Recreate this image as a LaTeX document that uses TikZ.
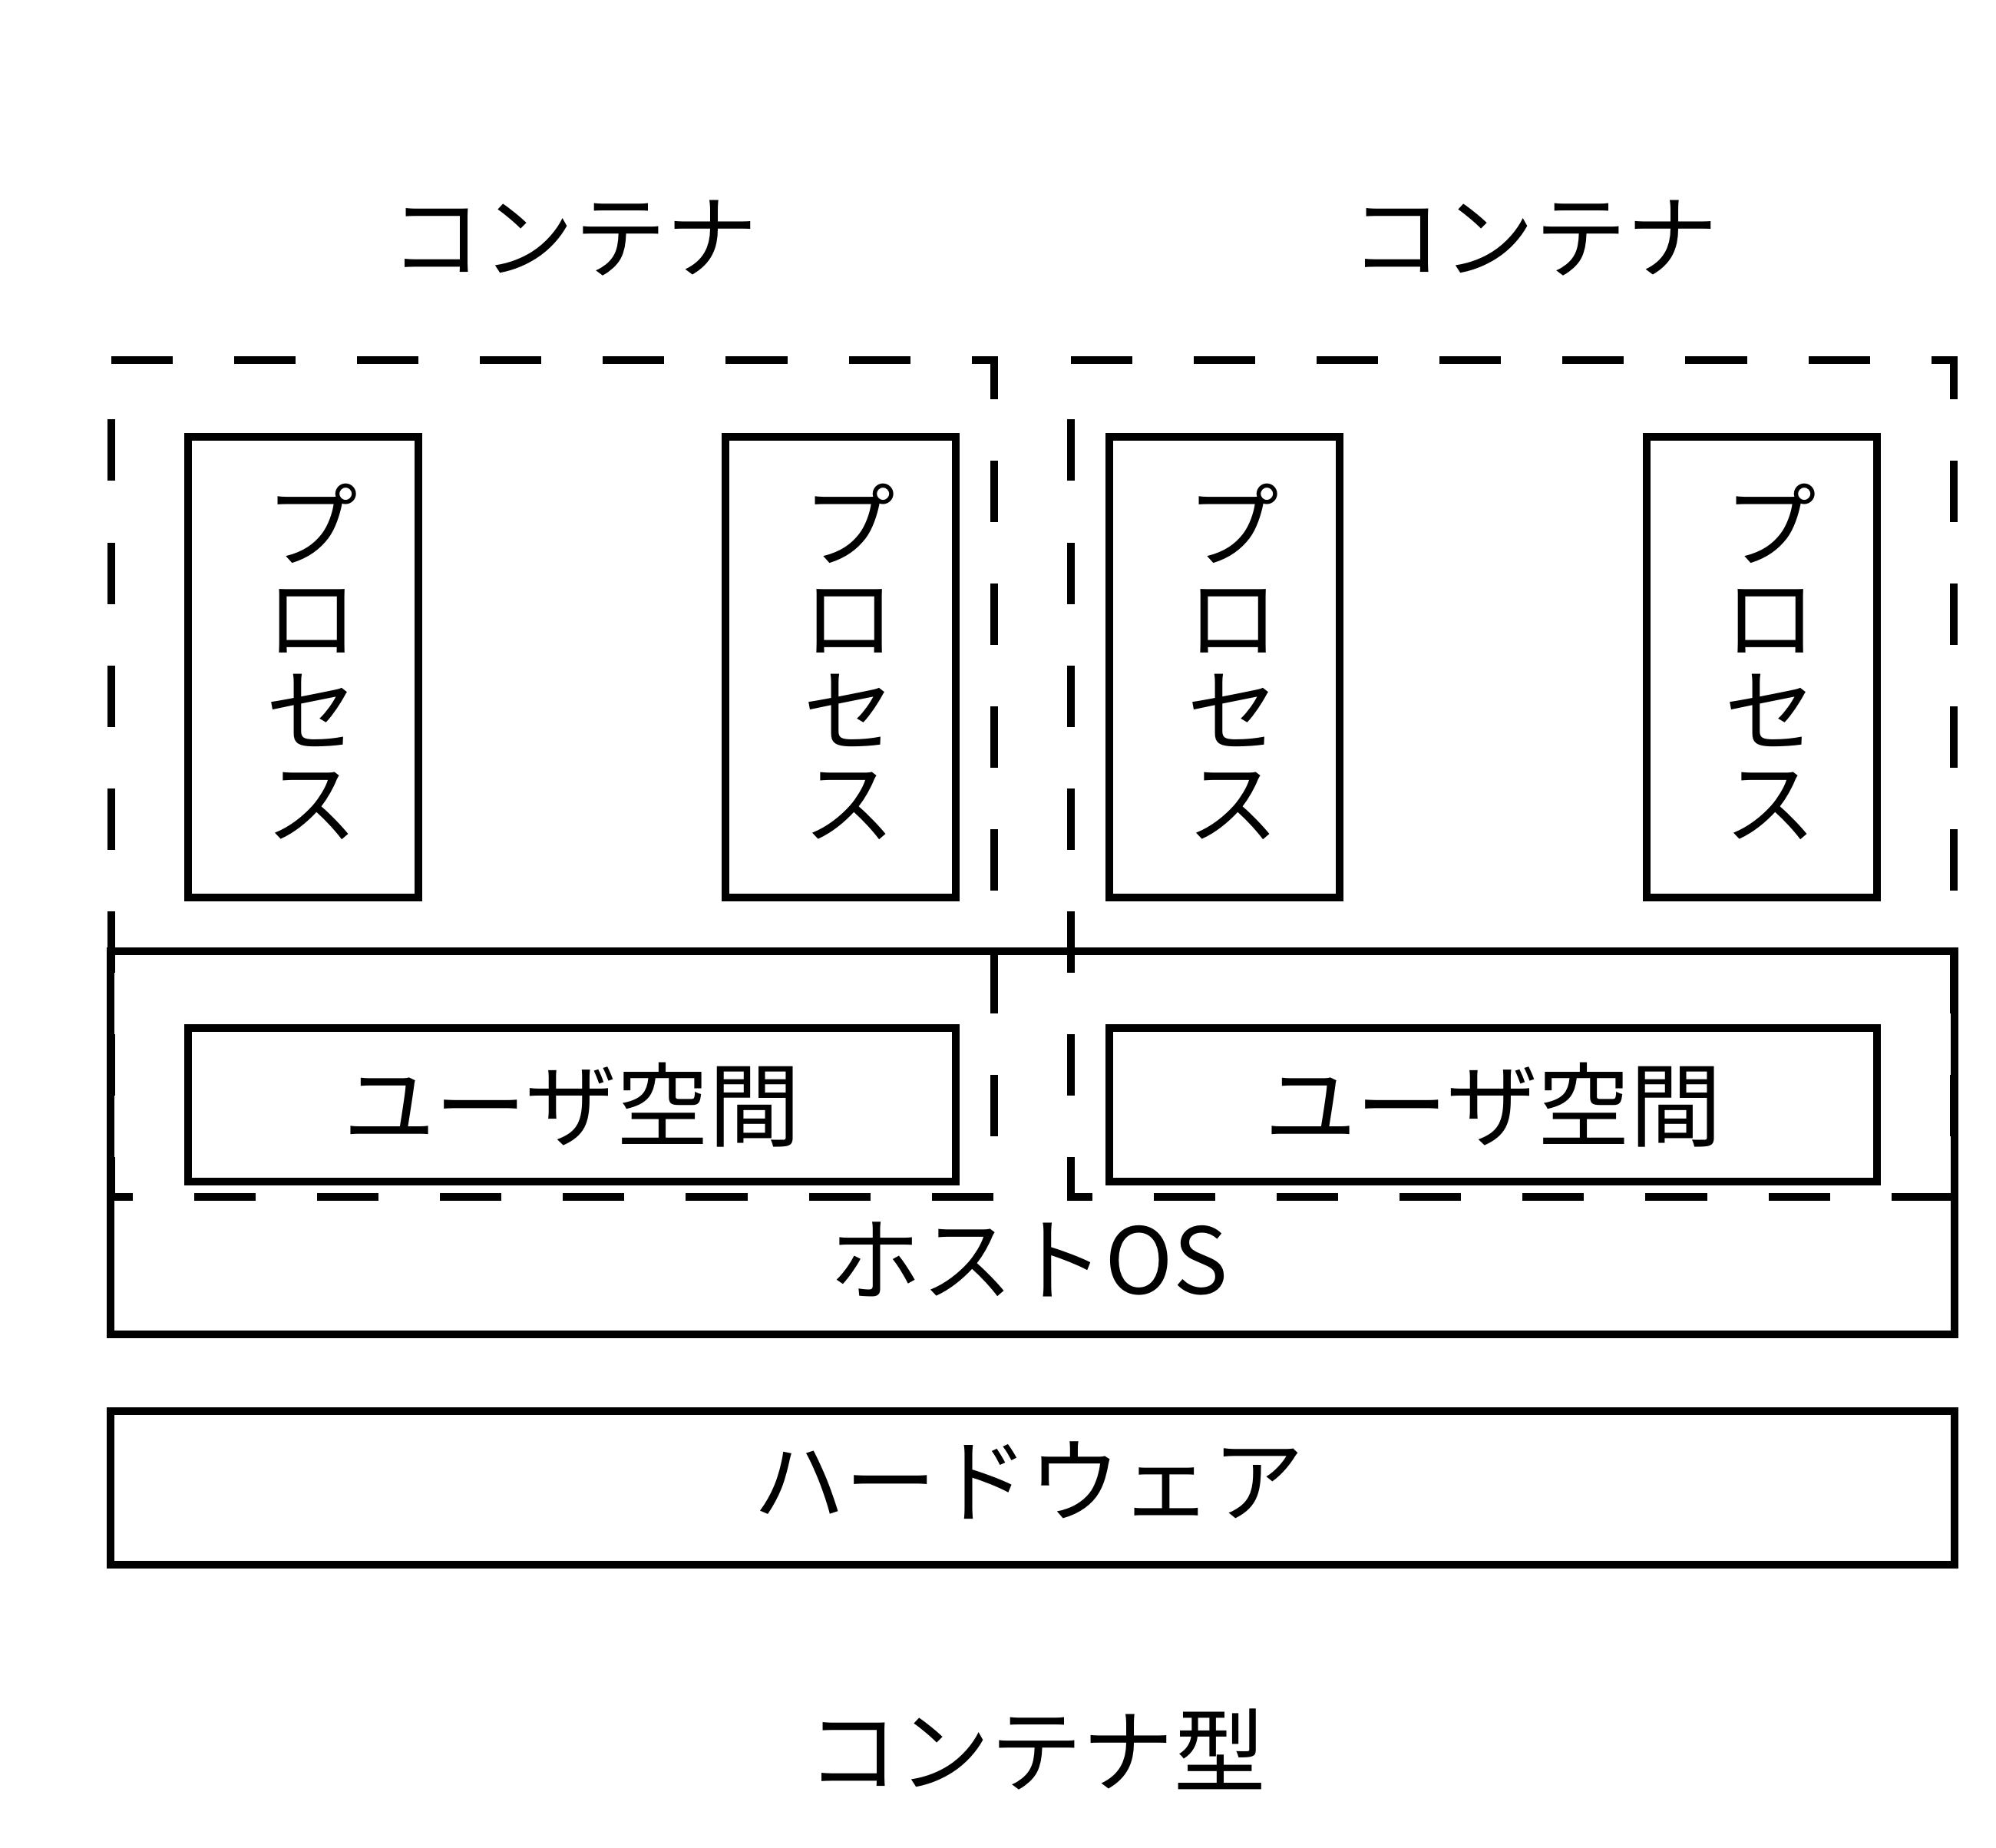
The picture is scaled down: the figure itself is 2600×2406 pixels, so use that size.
\documentclass[tikz,border=0pt]{standalone}
\usepackage{fontspec}
\setmainfont{Noto Sans CJK JP}
\begin{document}
\begin{tikzpicture}[x=0.01cm,y=-0.01cm,
  box/.style={draw, line width=0.1cm, inner sep=0pt},
  dbox/.style={draw, line width=0.1cm, dash pattern=on 0.8cm off 0.8cm, line join=miter},
  lbl/.style={font=\fontsize{34}{34}\selectfont, inner sep=0pt},
  ptext/.style={inner sep=0pt, align=center, font=\fontsize{34}{34.2}\selectfont},
  proc/.style={box, minimum width=3cm, minimum height=6cm},
  user/.style={box, minimum width=10cm, minimum height=2cm, font=\fontsize{34}{34}\selectfont}]
\useasboundingbox (0,0) rectangle (2600,2406);
% container labels
\node[lbl] (c1) at (748,310) {コンテナ};
\node[lbl] (c2) at (1999,310) {コンテナ};
% process boxes
\node[proc] (p1) at (395,869) {};
\node[proc] (p2) at (1095,869) {};
\node[proc] (p3) at (1595,869) {};
\node[proc] (p4) at (2295,869) {};
\node[ptext] (pt1) at (406,862) {プ\\ロ\\セ\\ス};
\node[ptext] (pt2) at (1106,862) {プ\\ロ\\セ\\ス};
\node[ptext] (pt3) at (1606,862) {プ\\ロ\\セ\\ス};
\node[ptext] (pt4) at (2306,862) {プ\\ロ\\セ\\ス};
% user space boxes
\node[user] (u1) at (745,1439) {ユーザ空間};
\node[user] (u2) at (1945,1439) {ユーザ空間};
% host OS
\node[box, minimum width=24cm, minimum height=4.99cm] (host) at (1345,1488.5) {};
\node[lbl] (hostlbl) at (1340,1640) {ホストOS};
% hardware
\node[box, minimum width=24cm, minimum height=2cm] (hw) at (1345,1938) {};
\node[lbl] (hwlbl) at (1340,1928) {ハードウェア};
% dashed containers
\draw[dbox] (145,469) -- (1295,469) -- (1295,1559) -- (145,1559) -- cycle;
\draw[dbox] (1395,469) -- (2545,469) -- (2545,1559) -- (1395,1559) -- cycle;
% title
\node[lbl] (title) at (1350,2278) {コンテナ型};
\end{tikzpicture}
\end{document}
